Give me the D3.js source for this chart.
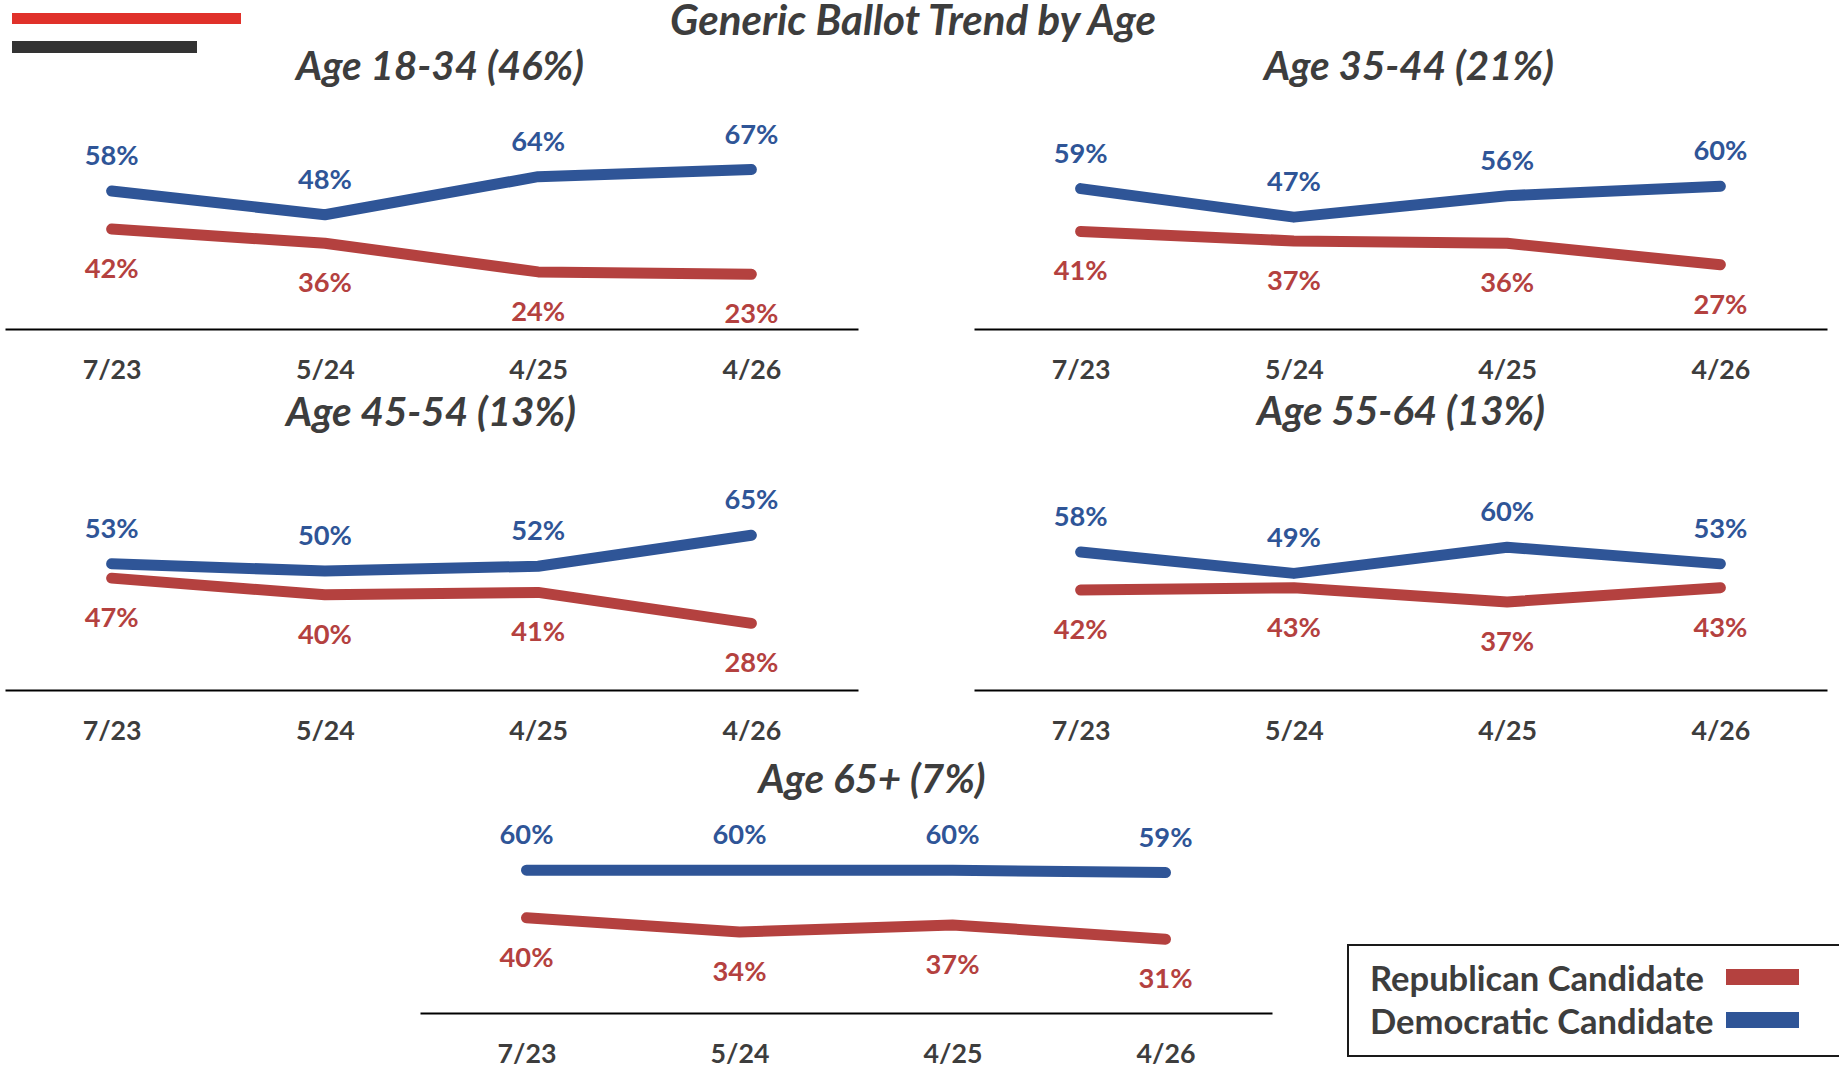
<!DOCTYPE html>
<html>
<head>
<meta charset="utf-8">
<script src="https://cdn.jsdelivr.net/npm/d3@7"></script>
<style>
  html, body { margin: 0; padding: 0; background: #ffffff; }
  svg { display: block; }
</style>
</head>
<body>
<div id="chart"></div>
<script>
// ---------------- DATA ----------------
const chartTitle = "Generic Ballot Trend by Age";
const dates = ["7/23", "5/24", "4/25", "4/26"];
const groups = ["Age 18-34 (46%)", "Age 35-44 (21%)", "Age 45-54 (13%)", "Age 55-64 (13%)", "Age 65+ (7%)"];
const demValues = [
  [58, 48, 64, 67],
  [59, 47, 56, 60],
  [53, 50, 52, 65],
  [58, 49, 60, 53],
  [60, 60, 60, 59]
];
const repValues = [
  [42, 36, 24, 23],
  [41, 37, 36, 27],
  [47, 40, 41, 28],
  [42, 43, 37, 43],
  [40, 34, 37, 31]
];
const seriesNames = ["Republican Candidate", "Democratic Candidate"];

// ---------------- LAYOUT / STYLE ----------------
const W = 1839, H = 1071;
const FONT = "Lato, 'Open Sans', 'Noto Sans', sans-serif";
const BLUE = "#2F5597", RED = "#B4413F", TEXT = "#3D3D3D";
const panels = [
  { x0: 5,   x1: 858,  axisY: 329,  tx: 440,  ty: 80 },
  { x0: 974, x1: 1827, axisY: 329,  tx: 1409, ty: 80 },
  { x0: 5,   x1: 858,  axisY: 690,  tx: 431,  ty: 426 },
  { x0: 974, x1: 1827, axisY: 690,  tx: 1401, ty: 425 },
  { x0: 420, x1: 1272, axisY: 1013, tx: 872,  ty: 793 }
];
const plotH = 238;

const svg = d3.select("#chart").append("svg")
  .attr("width", W).attr("height", H)
  .attr("viewBox", `0 0 ${W} ${H}`);

// fit font size so that a reference string gets the target width
function fitSize(text, weight, style, targetW) {
  const t = svg.append("text")
    .attr("font-family", FONT).attr("font-weight", weight)
    .attr("font-style", style).attr("font-size", 100).text(text);
  const w = t.node().getComputedTextLength();
  t.remove();
  return 100 * targetW / w;
}
const labelSize = fitSize("58%", 700, "normal", 54);
const tickSize = fitSize("7/23", 700, "normal", 59);
const legendSize = fitSize("Republican Candidate", 700, "normal", 334);
const titleSize = fitSize(chartTitle, 700, "italic", 486);
const subSize = fitSize("Age 18-34 (46%)", 700, "italic", 288);

// decorative top-left bars
svg.append("rect").attr("x", 12).attr("y", 13).attr("width", 229).attr("height", 11).attr("fill", "#E0312A");
svg.append("rect").attr("x", 12).attr("y", 41).attr("width", 185).attr("height", 12).attr("fill", "#333333");

// main title
svg.append("text")
  .attr("x", 913).attr("y", 35)
  .attr("text-anchor", "middle")
  .attr("font-family", FONT).attr("font-weight", 700).attr("font-style", "italic")
  .attr("font-size", titleSize).attr("fill", TEXT)
  .text(chartTitle);

groups.forEach((g, i) => {
  const p = panels[i];
  const x = d3.scalePoint().domain(dates).range([p.x0, p.x1]).padding(0.5);
  const y = d3.scaleLinear().domain([0, 100]).range([p.axisY, p.axisY - plotH]);
  const gp = svg.append("g");

  // subtitle
  gp.append("text")
    .attr("x", p.tx).attr("y", p.ty)
    .attr("text-anchor", "middle")
    .attr("font-family", FONT).attr("font-weight", 700).attr("font-style", "italic")
    .attr("font-size", subSize).attr("fill", TEXT)
    .text(g);

  // axis
  const ax = gp.append("g")
    .attr("transform", `translate(0,${p.axisY})`)
    .call(d3.axisBottom(x).tickSize(0).tickSizeOuter(0));
  ax.select(".domain").attr("stroke", "#000").attr("stroke-width", 2.2);
  ax.selectAll(".tick text")
    .attr("y", 50).attr("dy", 0)
    .attr("font-family", FONT).attr("font-weight", 700)
    .attr("font-size", tickSize).attr("fill", TEXT);

  const repData = dates.map((d, j) => ({ date: d, v: repValues[i][j] }));
  const demData = dates.map((d, j) => ({ date: d, v: demValues[i][j] }));
  const line = d3.line().x(d => x(d.date)).y(d => y(d.v));

  gp.append("path").datum(repData)
    .attr("d", line).attr("fill", "none")
    .attr("stroke", RED).attr("stroke-width", 11)
    .attr("stroke-linecap", "round").attr("stroke-linejoin", "round");
  gp.append("path").datum(demData)
    .attr("d", line).attr("fill", "none")
    .attr("stroke", BLUE).attr("stroke-width", 11)
    .attr("stroke-linecap", "round").attr("stroke-linejoin", "round");

  gp.selectAll(".demLbl").data(demData).enter().append("text")
    .attr("x", d => x(d.date)).attr("y", d => y(d.v) - 26)
    .attr("text-anchor", "middle")
    .attr("font-family", FONT).attr("font-weight", 700)
    .attr("font-size", labelSize).attr("fill", BLUE)
    .text(d => d.v + "%");
  gp.selectAll(".repLbl").data(repData).enter().append("text")
    .attr("x", d => x(d.date)).attr("y", d => y(d.v) + 49)
    .attr("text-anchor", "middle")
    .attr("font-family", FONT).attr("font-weight", 700)
    .attr("font-size", labelSize).attr("fill", RED)
    .text(d => d.v + "%");
});

// legend
const lg = svg.append("g");
lg.append("rect").attr("x", 1348).attr("y", 945).attr("width", 520).attr("height", 111)
  .attr("fill", "#fff").attr("stroke", "#1a1a1a").attr("stroke-width", 2);
const legendColors = [RED, BLUE];
const legendY = [991, 1034];
seriesNames.forEach((s, i) => {
  lg.append("text").attr("x", 1370).attr("y", legendY[i])
    .attr("font-family", FONT).attr("font-weight", 700)
    .attr("font-size", legendSize).attr("fill", TEXT).text(s);
  lg.append("rect").attr("x", 1726).attr("y", legendY[i] - 22).attr("width", 73).attr("height", 16)
    .attr("fill", legendColors[i]);
});
</script>
</body>
</html>
